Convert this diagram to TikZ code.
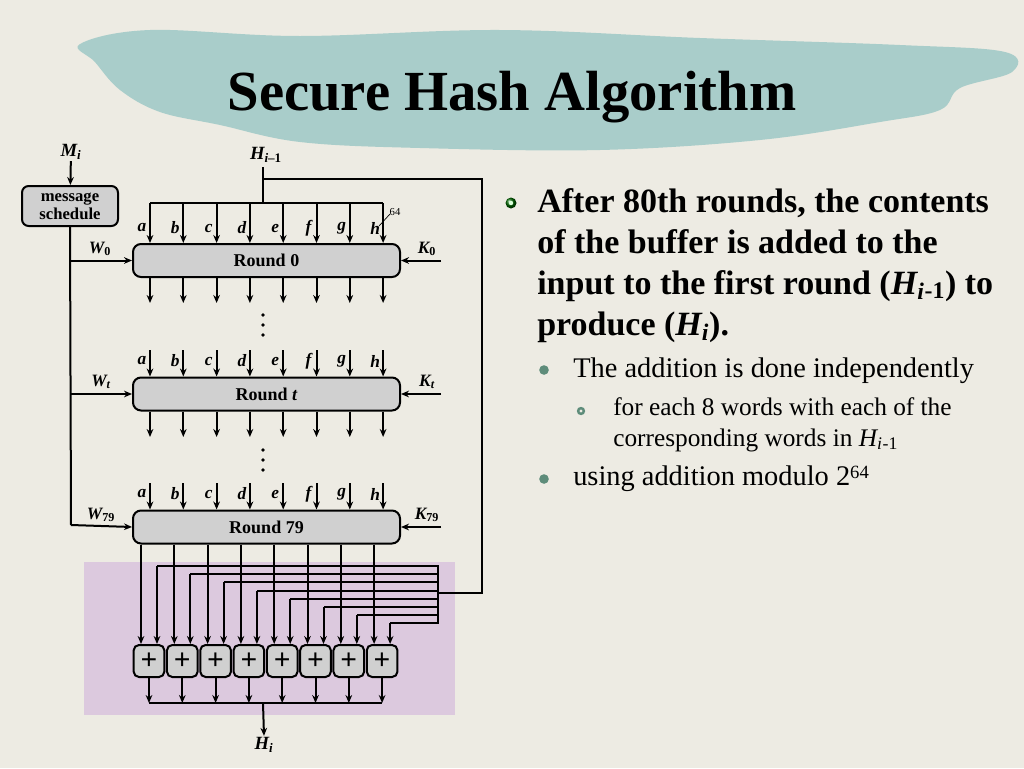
\documentclass[tikz,border=0pt]{standalone}
\usepackage{fontspec}
\setmainfont{Liberation Serif}
\usetikzlibrary{arrows.meta,shapes.misc}
\definecolor{bg}{HTML}{EDEBE3}
\definecolor{banner}{HTML}{A9CDCA}
\definecolor{boxgray}{HTML}{D0D0D0}
\definecolor{purp}{HTML}{DCC9DE}
\definecolor{dotgreen}{HTML}{5E8C7A}
\begin{document}
\begin{tikzpicture}[x=0.75pt,y=-0.75pt,
  ln/.style={line width=1.5pt},
  ar/.style={line width=1.5pt,-{Stealth[length=6pt,width=5pt]}},
  rbox/.style={draw,line width=1.5pt,fill=boxgray,rounded corners=6pt,minimum width=200.25pt,minimum height=24.75pt,font=\bfseries\fontsize{13.5}{15}\selectfont},
  addbox/.style={draw,line width=1.5pt,fill=boxgray,rounded corners=4pt,minimum width=23pt,minimum height=24pt,inner sep=0pt,font=\bfseries\fontsize{22}{22}\selectfont},
  lab/.style={font=\bfseries\itshape\fontsize{13}{14}\selectfont,inner sep=1pt},
  big/.style={anchor=base west,inner sep=0pt,font=\bfseries\fontsize{25.5}{28}\selectfont},
  mid/.style={anchor=base west,inner sep=0pt,font=\fontsize{21.3}{24}\selectfont},
  sml/.style={anchor=base west,inner sep=0pt,font=\fontsize{19}{22}\selectfont}]
\useasboundingbox (0,0) rectangle (1024,768);
\fill[bg] (0,0) rectangle (1024,768);
% banner
\fill[banner] plot[smooth cycle,tension=0.6] coordinates{(80,44) (150,30) (300,36) (500,30) (700,38) (900,45) (1005,52) (1012,72) (960,88) (940,110) (880,122) (760,140) (600,150) (420,148) (300,142) (220,125) (160,112) (120,90) (95,62)};
\node[font=\bfseries\fontsize{42.5}{46}\selectfont] (title) at (512,97) {Secure Hash Algorithm};
% purple area
\fill[purp] (84,562) rectangle (455,715);
% message schedule
\node[lab,font=\bfseries\itshape\fontsize{14}{16}\selectfont] (mi) at (71,152) {M\textsubscript{\itshape i}};
\node[draw,line width=1.5pt,fill=boxgray,rounded corners=5pt,minimum width=72pt,minimum height=30pt,align=center,inner sep=1pt,font=\bfseries\fontsize{12.5}{13.5}\selectfont] (ms) at (70,206) {message\\schedule};
\draw[ar] (mi) -- (ms);
% rounds
\node[rbox] (r0) at (266.5,260.5) {Round 0};
\node[rbox] (rt) at (266.5,394) {Round \textit{t}};
\node[rbox] (r79) at (266.5,527) {Round 79};
\coordinate (mv) at (71,525);
\draw[ln] (ms.south) -- (mv);
\draw[ar] (71,260.5) -- (r0.west);
\draw[ar] (71,394) -- (rt.west);
\draw[ar] (mv) -- (r79.west);
\node[lab] at (100,249) {W\textsubscript{\upshape 0}};
\node[lab] at (101,382) {W\textsubscript{\itshape t}};
\node[lab] at (101,515) {W\textsubscript{\upshape 79}};
\node[lab] at (427,249) {K\textsubscript{\upshape 0}};
\node[lab] at (427,382) {K\textsubscript{\itshape t}};
\node[lab] at (427,515) {K\textsubscript{\upshape 79}};
\draw[ar] (441,260.5) -- (r0.east);
\draw[ar] (441,394) -- (rt.east);
\draw[ar] (441,527) -- (r79.east);
% H_{i-1}
\node[lab,font=\bfseries\itshape\fontsize{14}{16}\selectfont] (hin) at (266,155) {H\textsubscript{\itshape i\textup{--1}}};
\draw[ln] (263,167) -- (263,203);
\draw[ln] (150,203) -- (383,203);
\draw[ln] (263,179) -- (482,179) -- (482,593) -- (438,593);
\draw[line width=0.5pt] (379,226) -- (390,214);
\node[font=\fontsize{8}{9}\selectfont,inner sep=0pt] at (395,212) {64};
\foreach \l [count=\k from 0] in {a,b,c,d,e,f,g,h}{
  \pgfmathsetmacro{\xx}{150+33.3*\k}
  \draw[ar] (\xx,203) -- (\xx,203 |- r0.north);
  \node[lab] at (\xx-8,228) {\l};
  \draw[ar] (\xx,303 |- r0.south) -- (\xx,303);
  \draw[ar] (\xx,350) -- (\xx,350 |- rt.north);
  \node[lab] at (\xx-8,361) {\l};
  \draw[ar] (\xx,437 |- rt.south) -- (\xx,437);
  \draw[ar] (\xx,483) -- (\xx,483 |- r79.north);
  \node[lab] at (\xx-8,494) {\l};
  \pgfmathsetmacro{\ax}{149+33.3*\k}
  \node[addbox] (ad\k) at (\ax,661) {+};
  \pgfmathsetmacro{\ox}{141+33.3*\k}
  \draw[ar] (\ox,600 |- r79.south) -- (\ox,600 |- ad\k.north);
  \pgfmathsetmacro{\fx}{157+33.3*\k}
  \pgfmathsetmacro{\fy}{566+8.2*\k}
  \draw[ln] (438,\fy) -- (\fx,\fy);
  \draw[ar] (\fx,\fy) -- (\fx,\fy |- ad\k.north);
  \draw[ar] (ad\k.south) -- (\ax,703);
}
\foreach \yy in {315,325,335,450,460,470}{\fill (263,\yy) circle (1.9);}
\draw[ln] (438,565.2) -- (438,623.6);
\draw[ln] (149,703) -- (382.1,703);
\node[lab,font=\bfseries\itshape\fontsize{14}{16}\selectfont] (hout) at (264,745) {H\textsubscript{\itshape i}};
\draw[ar] (263,703) -- (hout.north);
% text
\shade[ball color=green!40!black] (511,203) circle (5.5);
\fill[white!85!green] (511,203) circle (2.2);
\node[big] at (537,212) {After 80th rounds, the contents};
\node[big] at (537,253) {of the buffer is added to the};
\node[big] at (537,294) {input to the first round (\textit{H\textsubscript{i}}\textsubscript{-1}) to};
\node[big] at (537,335) {produce (\textit{H\textsubscript{i}}).};
\fill[dotgreen] (544,370) circle (4.8);
\node[mid] at (573,377) {The addition is done independently};
\fill[dotgreen] (581,411) circle (4.2); \fill[bg] (581,411) circle (1.7);
\node[sml] at (613,415) {for each 8 words with each of the};
\node[sml] at (613,446) {corresponding words in \textit{H\textsubscript{i}}\textsubscript{-1}};
\fill[dotgreen] (544,479) circle (4.8);
\node[mid] at (573,485) {using addition modulo 2\raisebox{0.5ex}{\fontsize{14}{14}\selectfont 64}};
\end{tikzpicture}
\end{document}
